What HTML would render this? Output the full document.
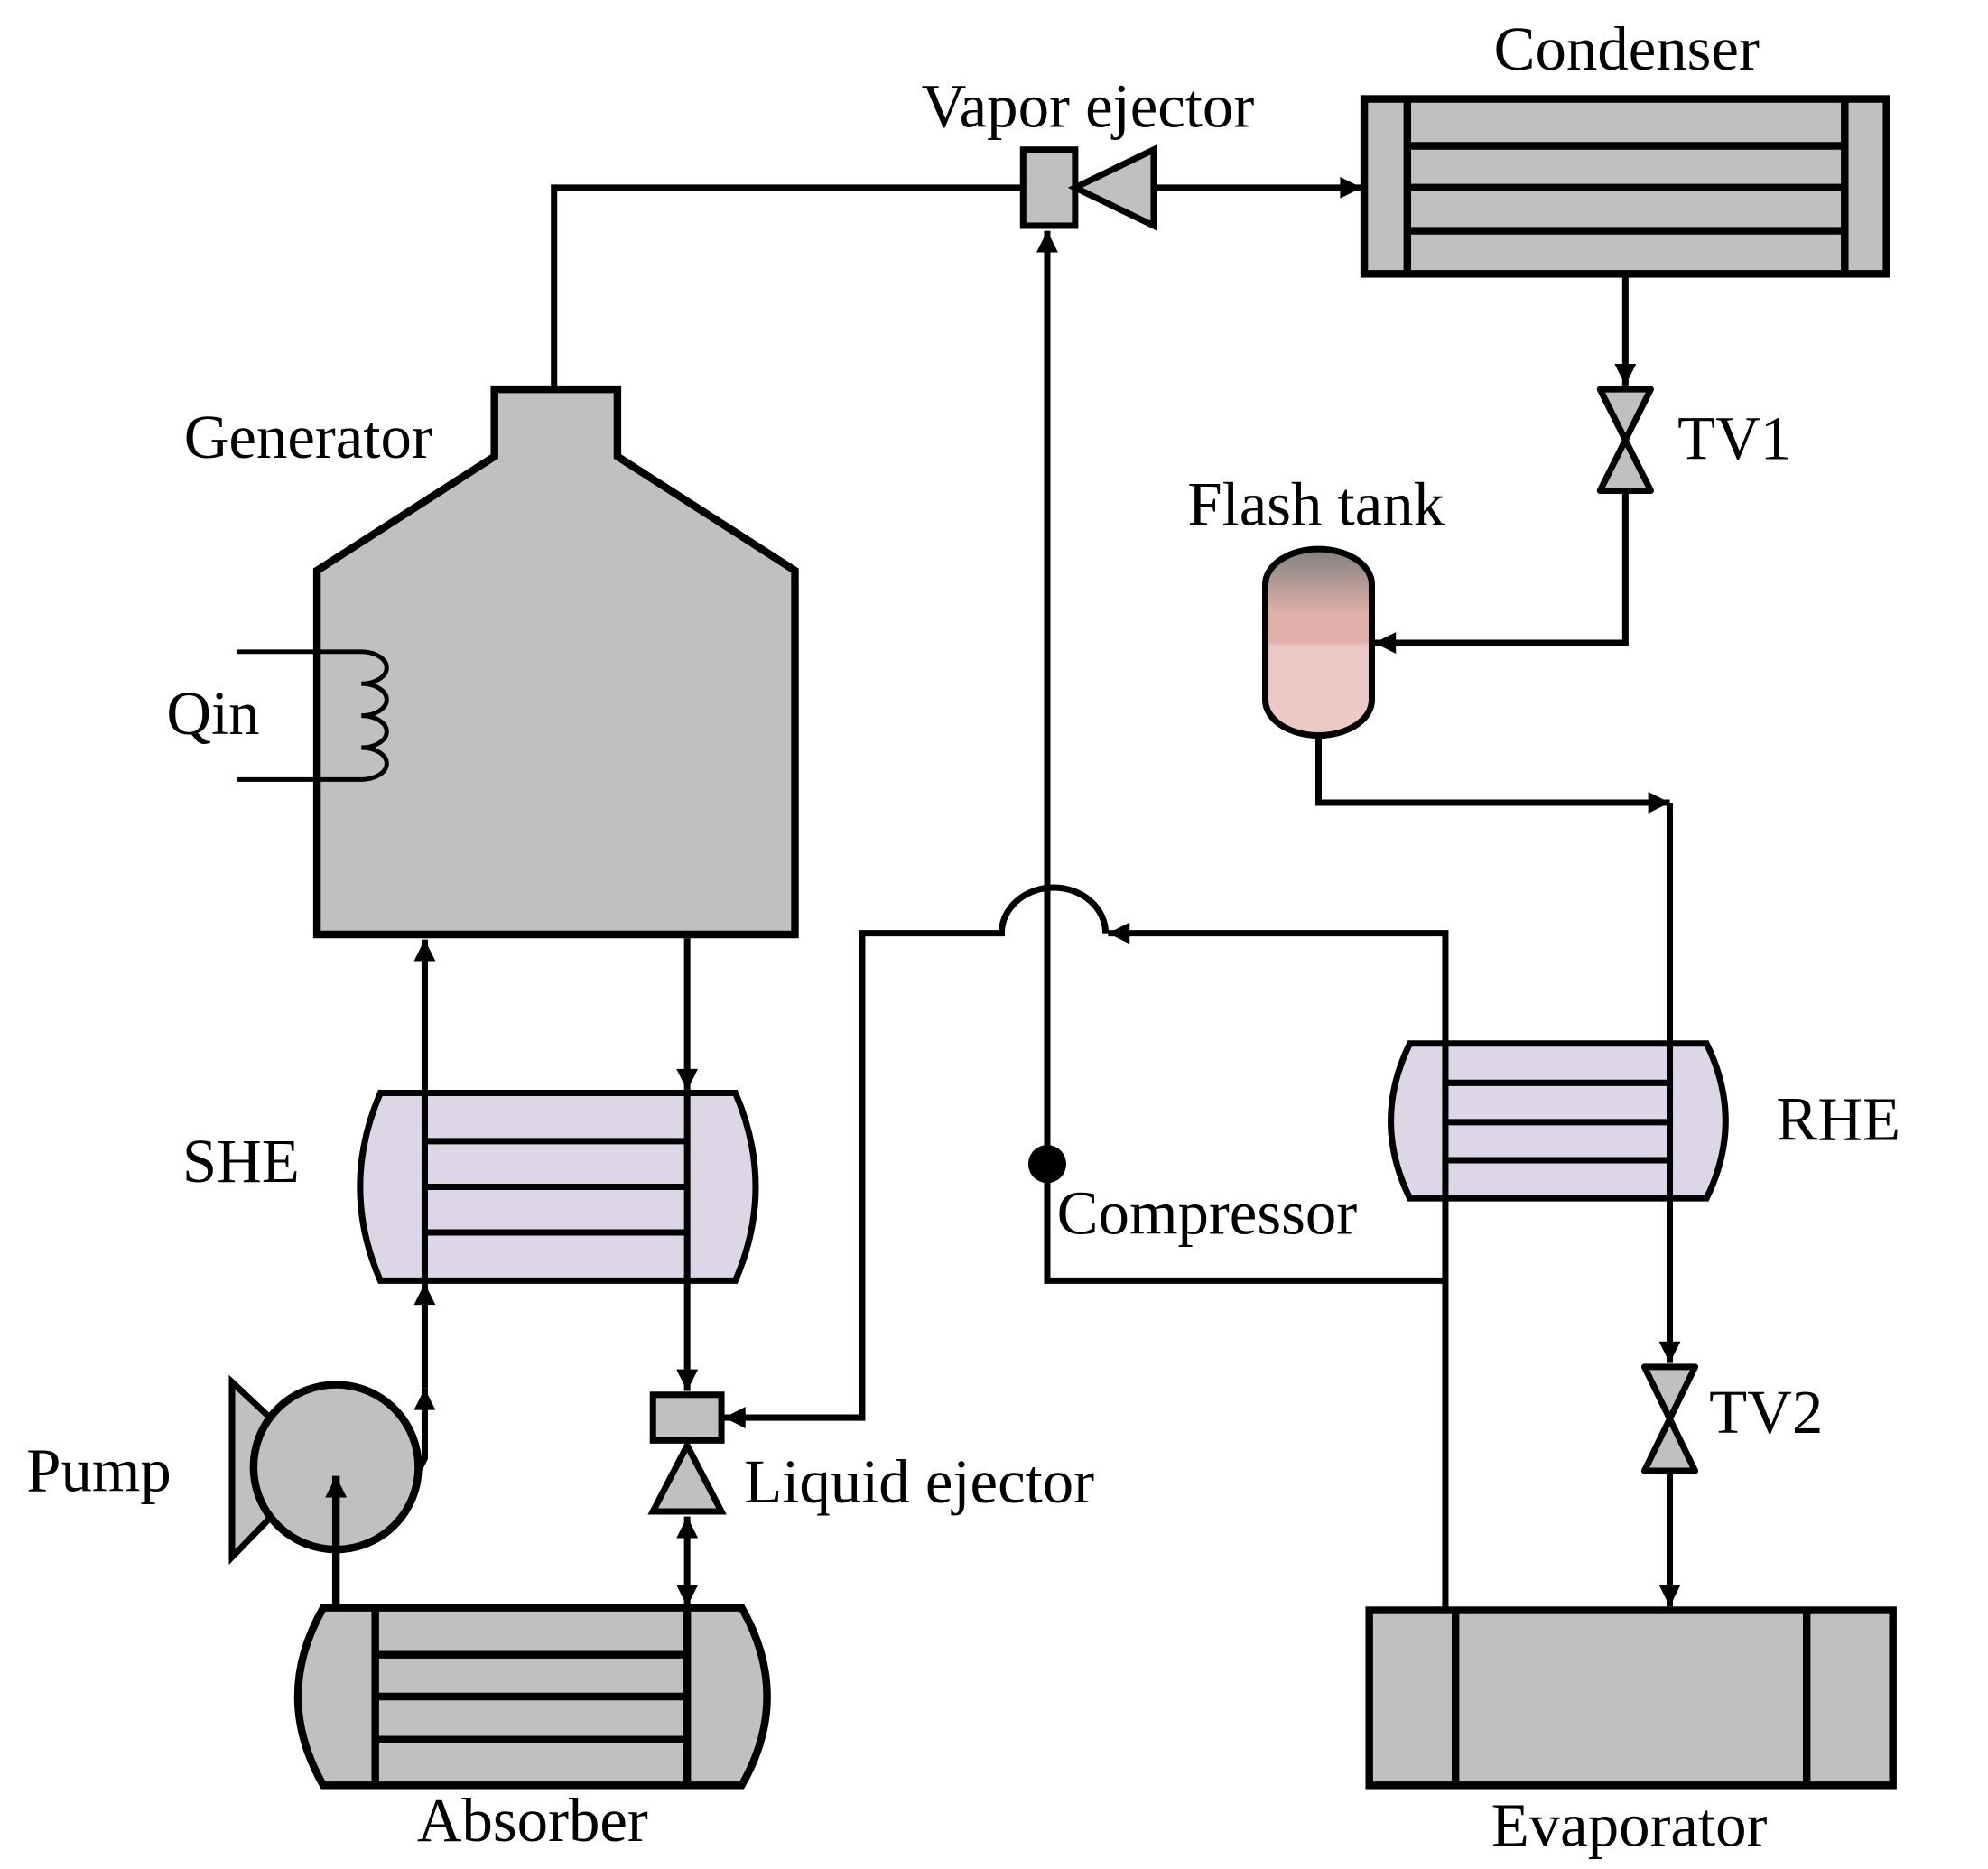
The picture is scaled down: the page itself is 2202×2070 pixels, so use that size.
<!DOCTYPE html>
<html><head><meta charset="utf-8"><style>html,body{margin:0;padding:0;background:#fff}svg{display:block}</style></head>
<body>
<svg width="2202" height="2070" viewBox="0 0 1568 1474" xmlns="http://www.w3.org/2000/svg" font-family="Liberation Serif, serif" font-size="49">
<defs>
<marker id="a" viewBox="0 0 10 10" refX="10" refY="5" markerWidth="20" markerHeight="17" orient="auto-start-reverse" markerUnits="userSpaceOnUse"><path d="M0,0L10,5L0,10z" fill="#000"/></marker>
<linearGradient id="ft" x1="0" y1="0" x2="0" y2="1">
<stop offset="0" stop-color="#808080"/><stop offset="0.35" stop-color="#e2b0aa"/><stop offset="0.5" stop-color="#e2b0aa"/><stop offset="0.52" stop-color="#ecc8c6"/><stop offset="1" stop-color="#ecc8c6"/></linearGradient>
</defs>
<rect width="1568" height="1474" fill="#fff"/>
<g fill="none" stroke="#000" stroke-width="5">
<polyline points="437,305 437,148 807,148"/>
<line x1="910" y1="148" x2="1074" y2="148" marker-end="url(#a)"/>
<line x1="826" y1="918" x2="826" y2="182" marker-end="url(#a)"/>
<polyline points="826,918 826,1010 1140,1010"/>
<line x1="1282" y1="216" x2="1282" y2="304" marker-end="url(#a)"/>
<polyline points="1282,388 1282,507 1084,507" marker-end="url(#a)"/>
<polyline points="1040,580 1040,633 1317,633" marker-end="url(#a)"/>
<line x1="1317" y1="633" x2="1317" y2="1075" marker-end="url(#a)"/>
<line x1="1317" y1="1160" x2="1317" y2="1267" marker-end="url(#a)"/>
<polyline points="1140,1268 1140,736 874,736" marker-end="url(#a)"/>
<path d="M872,736 A41,36 0 0 0 790,736 L680,736 L680,1118 L571,1118" marker-end="url(#a)"/>
<line x1="335" y1="862" x2="335" y2="741" marker-end="url(#a)"/>
<line x1="542" y1="740" x2="542" y2="860" marker-end="url(#a)"/>
<line x1="542" y1="1010" x2="542" y2="1097" marker-end="url(#a)"/>
<line x1="542" y1="1196" x2="542" y2="1267" marker-start="url(#a)" marker-end="url(#a)"/>
<polyline points="330,1160 335,1150 335,1095" marker-end="url(#a)"/>
<line x1="335" y1="1095" x2="335" y2="1012" marker-end="url(#a)"/>
</g>
<path d="M390,307L487,307L487,360L627,450L627,737L250,737L250,450L390,360Z" fill="#c0c0c0" stroke="#000" stroke-width="6"/>
<path d="M187,514H285 a20,12.6 0 0 1 0,25.2 a20,12.6 0 0 1 0,25.2 a20,12.6 0 0 1 0,25.2 a20,12.6 0 0 1 0,25.2 H187" fill="none" stroke="#000" stroke-width="3.5"/>
<rect x="1076" y="78" width="412" height="138" fill="#c0c0c0" stroke="#000" stroke-width="6"/>
<g stroke="#000" stroke-width="6"><line x1="1110" y1="78" x2="1110" y2="216"/><line x1="1455" y1="78" x2="1455" y2="216"/>
<line x1="1110" y1="115" x2="1455" y2="115"/><line x1="1110" y1="148" x2="1455" y2="148"/><line x1="1110" y1="182" x2="1455" y2="182"/></g>
<rect x="807" y="118" width="41" height="60" fill="#c0c0c0" stroke="#000" stroke-width="5"/>
<path d="M848,148L910,118L910,178Z" fill="#c0c0c0" stroke="#000" stroke-width="5"/>
<path d="M1262,307L1302,307L1262,387L1302,387Z" fill="#c0c0c0" stroke="#000" stroke-width="5" stroke-linejoin="round"/>
<path d="M1297,1078L1337,1078L1297,1160L1337,1160Z" fill="#c0c0c0" stroke="#000" stroke-width="5" stroke-linejoin="round"/>
<rect x="998" y="433" width="84" height="147" rx="42" ry="28" fill="url(#ft)" stroke="#000" stroke-width="5"/>
<path d="M1112,823H1346Q1376,884 1346,945H1112Q1082,884 1112,823Z" fill="#dcd6e6" stroke="#000" stroke-width="5"/>
<g stroke="#000" stroke-width="5"><line x1="1140" y1="823" x2="1140" y2="945"/><line x1="1317" y1="823" x2="1317" y2="945"/>
<line x1="1140" y1="854" x2="1317" y2="854"/><line x1="1140" y1="885" x2="1317" y2="885"/><line x1="1140" y1="915" x2="1317" y2="915"/></g>
<path d="M300,862H580Q612,936 580,1010H300Q268,936 300,862Z" fill="#dcd6e6" stroke="#000" stroke-width="5"/>
<g stroke="#000" stroke-width="5"><line x1="335" y1="862" x2="335" y2="1010"/><line x1="542" y1="862" x2="542" y2="1010"/>
<line x1="335" y1="900" x2="542" y2="900"/><line x1="335" y1="936" x2="542" y2="936"/><line x1="335" y1="972" x2="542" y2="972"/></g>
<path d="M183,1090L215,1120L215,1195L183,1228Z" fill="#c0c0c0" stroke="#000" stroke-width="5"/>
<circle cx="265" cy="1157" r="65" fill="#c0c0c0" stroke="#000" stroke-width="6"/>
<line x1="265" y1="1268" x2="265" y2="1164" stroke="#000" stroke-width="6" marker-end="url(#a)"/>
<rect x="515" y="1100" width="54" height="36" fill="#c0c0c0" stroke="#000" stroke-width="5"/>
<path d="M542,1140L569,1192L515,1192Z" fill="#c0c0c0" stroke="#000" stroke-width="5"/>
<path d="M255,1268H585Q625,1338 585,1408H255Q215,1338 255,1268Z" fill="#c0c0c0" stroke="#000" stroke-width="6"/>
<g stroke="#000" stroke-width="6"><line x1="296" y1="1268" x2="296" y2="1408"/><line x1="542" y1="1268" x2="542" y2="1408"/>
<line x1="296" y1="1305" x2="542" y2="1305"/><line x1="296" y1="1338" x2="542" y2="1338"/><line x1="296" y1="1372" x2="542" y2="1372"/></g>
<rect x="1080" y="1270" width="413" height="138" fill="#c0c0c0" stroke="#000" stroke-width="6"/>
<g stroke="#000" stroke-width="6"><line x1="1148" y1="1270" x2="1148" y2="1408"/><line x1="1425" y1="1270" x2="1425" y2="1408"/></g>
<circle cx="826" cy="918" r="15" fill="#000"/>
<g fill="#000" text-anchor="middle">
<text x="1283" y="55">Condenser</text>
<text x="858" y="100">Vapor ejector</text>
<text x="243" y="361">Generator</text>
<text x="168" y="579">Qin</text>
<text x="1368" y="362">TV1</text>
<text x="1038" y="414">Flash tank</text>
<text x="1450" y="899">RHE</text>
<text x="190" y="932">SHE</text>
<text x="952" y="973">Compressor</text>
<text x="78" y="1176">Pump</text>
<text x="725" y="1185">Liquid ejector</text>
<text x="1393" y="1130">TV2</text>
<text x="420" y="1452">Absorber</text>
<text x="1285" y="1456">Evaporator</text>
</g>
</svg>
</body></html>
